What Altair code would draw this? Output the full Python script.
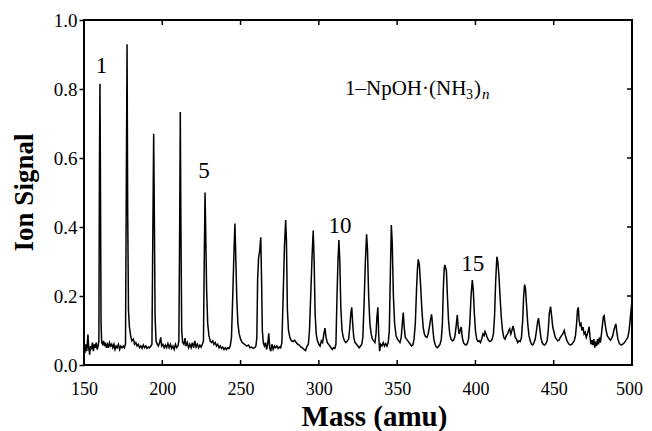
import altair as alt
import pandas as pd

# ---- spectrum trace (mass in amu, ion signal) ----
mass = [
    150.0, 150.6, 151.2, 151.8, 152.5, 153.0, 153.6, 154.2, 154.8, 155.4, 156.0, 156.6, 157.2, 157.8, 158.4, 159.0, 159.5,
    159.9, 160.2, 160.5, 160.9, 161.3,
    161.9, 162.5, 163.1, 163.7, 164.3, 165.0, 165.6, 166.3, 167.0, 167.7, 168.4, 169.1, 169.8, 170.5, 171.2, 172.0, 172.8, 173.5, 174.3, 175.1, 175.8, 176.5,
    177.0, 177.5, 177.9, 178.4, 179.0, 179.8, 180.6, 181.5, 182.3, 183.1, 183.9, 184.7, 185.5, 186.3, 187.1, 187.9, 188.7, 189.5, 190.3, 191.1, 191.9, 192.7, 193.4,
    193.9, 194.5, 194.9, 195.4, 196.0, 196.8, 197.5, 198.3, 199.0, 199.6, 200.4, 201.2, 202.0, 202.8, 203.6, 204.4, 205.2, 206.0, 206.8, 207.6, 208.4, 209.2, 210.0, 210.6,
    211.1, 211.5, 211.9, 212.4, 213.0, 213.8, 214.5, 215.2, 216.0, 216.8, 217.6, 218.4, 219.2, 220.0, 220.8, 221.6, 222.4, 223.2, 224.0, 224.8, 225.6, 226.3,
    226.8, 227.3, 227.7, 228.3, 229.0, 229.8, 230.6, 231.4, 232.2, 233.0, 233.8, 234.6, 235.4, 236.2, 237.0, 237.8, 238.6, 239.4, 240.2, 241.0, 241.8, 242.6, 243.4, 244.2,
    245.0, 245.8, 246.4, 247.0, 247.6, 248.3, 249.1, 250.0, 251.0, 252.0, 253.0, 254.0, 255.0, 256.0, 257.0, 258.0, 259.0, 259.8, 260.4,
    260.9, 261.5, 262.2, 262.9, 263.4, 263.9, 264.5, 265.2, 266.0, 266.6, 267.3, 268.0, 268.6, 269.3, 270.0, 270.8, 271.6, 272.4, 273.2, 274.0, 274.8, 275.6, 276.4,
    277.2, 278.0, 278.8, 279.3, 279.9, 280.6, 281.5, 282.5, 283.5, 284.5, 285.5, 286.5, 287.5, 288.5, 289.5, 290.5, 291.5, 292.5, 293.3, 294.0,
    294.8, 295.7, 296.4, 297.0, 297.6, 298.3, 299.1, 300.0, 300.8, 301.6, 302.4, 303.2, 303.9, 304.6, 305.4, 306.2, 307.0, 307.8, 308.6, 309.4, 310.2, 310.9,
    311.6, 312.2, 312.8, 313.4, 314.0, 314.8, 315.6, 316.4, 317.3, 318.2, 319.0, 319.8, 320.4, 321.0, 321.6, 322.3, 323.1, 324.0, 324.9, 325.8, 326.6, 327.4, 328.1,
    328.9, 329.7, 330.5, 331.1, 331.8, 332.6, 333.4, 334.2, 335.0, 335.8, 336.5, 337.1, 337.7, 338.2, 338.8, 339.5, 340.3, 341.1, 341.9, 342.7, 343.5, 344.3, 345.0,
    345.6, 346.3, 346.9, 347.6, 348.4, 349.3, 350.2, 351.0, 351.8, 352.6, 353.3, 353.9, 354.5, 355.2, 356.0, 356.8, 357.6, 358.4, 359.2, 360.0, 360.8, 361.6,
    362.4, 363.0, 363.5, 364.2, 365.0, 365.8, 366.6, 367.4, 368.2, 369.0, 369.8, 370.6, 371.3, 372.0, 372.7, 373.4, 374.2, 375.0, 375.8, 376.6, 377.4, 378.2, 378.9,
    379.5, 380.0, 380.4, 381.0, 381.5, 382.1, 382.8, 383.6, 384.4, 385.2, 386.0, 386.8, 387.6, 388.4, 389.0, 389.6, 390.2, 390.9, 391.6, 392.4, 393.2, 394.0, 394.8, 395.6, 396.4,
    397.2, 398.0, 398.6, 399.3, 400.0, 400.8, 401.6, 402.4, 403.2, 404.0, 404.8, 405.5, 406.1, 406.8, 407.5, 408.3, 409.1, 409.9, 410.7, 411.5, 412.2,
    412.9, 413.7, 414.3, 415.0, 415.7, 416.5, 417.3, 418.1, 418.9, 419.7, 420.5, 421.3, 421.9, 422.6, 423.3, 424.0, 424.7, 425.4, 426.2, 427.0, 427.8, 428.6, 429.4, 430.2,
    430.8, 431.4, 432.0, 432.7, 433.4, 434.2, 435.0, 435.8, 436.6, 437.4, 438.2, 439.0, 439.7, 440.3, 441.0, 441.8, 442.6, 443.4, 444.2, 445.0, 445.8, 446.5,
    447.2, 448.0, 448.7, 449.4, 450.2, 451.0, 451.8, 452.6, 453.4, 454.2, 455.0, 455.8, 456.7, 457.5, 458.3, 459.1, 459.9, 460.7, 461.5, 462.3, 463.1, 463.9, 464.6,
    465.2, 465.7, 466.2, 466.8, 467.4, 468.0, 468.7, 469.4, 470.1, 470.8, 471.5, 472.1, 472.6, 473.2, 473.8, 474.4, 475.0, 475.6, 476.2, 476.8, 477.4, 478.0, 478.6, 479.2, 479.8, 480.5, 481.2,
    481.7, 482.2, 482.8, 483.5, 484.2, 484.9, 485.6, 486.3, 487.0, 487.7, 488.4, 489.1, 489.7, 490.3, 491.0, 491.7, 492.4, 493.1, 493.8, 494.5, 495.2, 495.9, 496.6, 497.3, 498.0, 498.6, 499.2, 499.7, 500.0,
]
signal = [
    0.050, 0.035, 0.060, 0.040, 0.088, 0.050, 0.030, 0.055, 0.045, 0.065, 0.040, 0.060, 0.050, 0.065, 0.045, 0.055, 0.070,
    0.600, 0.815, 0.550, 0.120, 0.065,
    0.060, 0.070, 0.055, 0.065, 0.050, 0.060, 0.050, 0.065, 0.055, 0.060, 0.050, 0.060, 0.045, 0.055, 0.050, 0.060, 0.045, 0.055, 0.050, 0.055, 0.050, 0.060,
    0.500, 0.930, 0.450, 0.160, 0.110, 0.085, 0.070, 0.075, 0.060, 0.065, 0.055, 0.060, 0.050, 0.055, 0.048, 0.058, 0.050, 0.055, 0.048, 0.052, 0.050, 0.055, 0.060,
    0.350, 0.670, 0.450, 0.140, 0.070, 0.060, 0.055, 0.065, 0.080, 0.055, 0.060, 0.050, 0.058, 0.050, 0.062, 0.050, 0.060, 0.048, 0.055, 0.045, 0.060, 0.050, 0.055, 0.070,
    0.400, 0.733, 0.400, 0.100, 0.065, 0.060, 0.078, 0.055, 0.065, 0.050, 0.060, 0.050, 0.065, 0.050, 0.070, 0.052, 0.060, 0.050, 0.058, 0.052, 0.060, 0.070,
    0.300, 0.500, 0.400, 0.220, 0.120, 0.085, 0.070, 0.065, 0.070, 0.060, 0.065, 0.055, 0.060, 0.050, 0.055, 0.048, 0.052, 0.045, 0.050, 0.045, 0.050, 0.048, 0.055, 0.080,
    0.200, 0.330, 0.410, 0.300, 0.190, 0.120, 0.090, 0.075, 0.065, 0.062, 0.058, 0.055, 0.058, 0.050, 0.052, 0.048, 0.050, 0.055, 0.080,
    0.250, 0.310, 0.330, 0.370, 0.250, 0.100, 0.065, 0.055, 0.065, 0.045, 0.060, 0.092, 0.050, 0.040, 0.060, 0.045, 0.055, 0.050, 0.055, 0.048, 0.052, 0.050, 0.065,
    0.200, 0.340, 0.420, 0.360, 0.160, 0.100, 0.080, 0.070, 0.068, 0.072, 0.065, 0.060, 0.058, 0.052, 0.050, 0.045, 0.042, 0.055, 0.060, 0.100,
    0.200, 0.320, 0.390, 0.300, 0.150, 0.090, 0.070, 0.060, 0.055, 0.070, 0.065, 0.090, 0.107, 0.080, 0.065, 0.060, 0.055, 0.050, 0.045, 0.050, 0.048, 0.060,
    0.200, 0.300, 0.362, 0.300, 0.170, 0.100, 0.080, 0.070, 0.065, 0.070, 0.075, 0.110, 0.150, 0.167, 0.120, 0.080, 0.065, 0.060, 0.055, 0.050, 0.055, 0.060, 0.080,
    0.180, 0.300, 0.379, 0.330, 0.200, 0.120, 0.090, 0.075, 0.070, 0.065, 0.090, 0.140, 0.167, 0.090, 0.040, 0.060, 0.055, 0.065, 0.055, 0.062, 0.055, 0.065, 0.100,
    0.250, 0.406, 0.350, 0.200, 0.120, 0.085, 0.075, 0.070, 0.065, 0.080, 0.120, 0.152, 0.110, 0.080, 0.075, 0.070, 0.065, 0.060, 0.055, 0.058, 0.075, 0.120,
    0.220, 0.280, 0.306, 0.290, 0.230, 0.160, 0.110, 0.090, 0.082, 0.080, 0.090, 0.110, 0.130, 0.147, 0.110, 0.075, 0.060, 0.052, 0.050, 0.055, 0.060, 0.075, 0.120,
    0.220, 0.275, 0.290, 0.282, 0.270, 0.200, 0.130, 0.090, 0.075, 0.070, 0.072, 0.080, 0.110, 0.145, 0.110, 0.090, 0.100, 0.110, 0.080, 0.065, 0.060, 0.058, 0.062, 0.075, 0.120,
    0.200, 0.246, 0.220, 0.150, 0.100, 0.075, 0.068, 0.070, 0.065, 0.075, 0.090, 0.085, 0.097, 0.090, 0.080, 0.072, 0.068, 0.070, 0.075, 0.090, 0.140,
    0.240, 0.314, 0.300, 0.260, 0.200, 0.140, 0.100, 0.080, 0.075, 0.085, 0.090, 0.100, 0.105, 0.090, 0.100, 0.113, 0.100, 0.080, 0.075, 0.065, 0.070, 0.068, 0.080, 0.130,
    0.200, 0.233, 0.220, 0.170, 0.120, 0.085, 0.070, 0.060, 0.058, 0.065, 0.075, 0.100, 0.125, 0.136, 0.110, 0.080, 0.065, 0.060, 0.058, 0.062, 0.070, 0.100,
    0.150, 0.169, 0.140, 0.110, 0.095, 0.080, 0.075, 0.070, 0.072, 0.080, 0.085, 0.090, 0.100, 0.085, 0.072, 0.065, 0.060, 0.058, 0.060, 0.065, 0.070, 0.085, 0.120,
    0.160, 0.167, 0.130, 0.115, 0.120, 0.100, 0.110, 0.090, 0.095, 0.080, 0.090, 0.100, 0.111, 0.080, 0.060, 0.072, 0.058, 0.075, 0.050, 0.068, 0.055, 0.075, 0.060, 0.080, 0.065, 0.090, 0.120,
    0.140, 0.143, 0.120, 0.100, 0.085, 0.080, 0.075, 0.072, 0.078, 0.085, 0.100, 0.112, 0.119, 0.095, 0.075, 0.065, 0.060, 0.058, 0.060, 0.062, 0.065, 0.070, 0.075, 0.080, 0.095, 0.120, 0.150, 0.174, 0.150,
]

# ---- axes ----
x_tick_values = [150, 200, 250, 300, 350, 400, 450, 500]
y_tick_values = [0.0, 0.2, 0.4, 0.6, 0.8, 1.0]
x_inner_ticks = [200, 250, 300, 350, 400, 450]
y_inner_ticks = [0.2, 0.4, 0.6, 0.8]

# ---- annotations ----
cluster_labels = ["1", "5", "10", "15"]
cluster_label_mass = [161.1, 226.6, 313.5, 398.3]
cluster_label_signal = [0.845, 0.542, 0.383, 0.273]

formula_mass = [316.7]
formula_signal = [0.783]

W, H = 548, 345
FONT = "Liberation Serif"

xscale = alt.Scale(domain=[150, 500], nice=False, zero=False)
yscale = alt.Scale(domain=[0, 1], nice=False, zero=False)

x_axis = alt.Axis(
    values=x_tick_values, format="d", tickSize=0, domain=False, grid=False, labelFlush=False,
    labelOffset=alt.expr("datum.value == 500 ? -3 : 0"),
    labelFont=FONT, labelFontSize=18, labelColor="black", labelPadding=15,
    title="Mass (amu)", titleFont=FONT, titleFontSize=29, titleFontWeight="bold",
    titleColor="black", titleX=290, titleY=60, titleBaseline="alphabetic", titleAlign="center")
y_axis = alt.Axis(
    values=y_tick_values, format=".1f", tickSize=5, tickColor="black", tickWidth=1.5,
    domain=False, grid=False, labelFlush=False, labelFont=FONT, labelFontSize=19,
    labelColor="black", labelPadding=2,
    title="Ion Signal", titleFont=FONT, titleFontSize=27, titleFontWeight="bold",
    titleColor="black", titleX=-52, titleY=172, titleAngle=270, titleBaseline="alphabetic",
    titleAlign="center")

spec_df = pd.DataFrame({"mass": mass, "signal": signal})

line = alt.Chart(spec_df).mark_line(color="black", strokeWidth=1.5, clip=True).encode(
    x=alt.X("mass:Q", scale=xscale, axis=x_axis),
    y=alt.Y("signal:Q", scale=yscale, axis=y_axis),
)

xt_df = pd.DataFrame({"mass": x_inner_ticks})
yt_df = pd.DataFrame({"signal": y_inner_ticks})

bottom_ticks = alt.Chart(xt_df).mark_rule(color="black", strokeWidth=1.5).encode(
    x=alt.X("mass:Q", scale=xscale), y=alt.value(H), y2=alt.value(H - 5))
top_ticks = alt.Chart(xt_df).mark_rule(color="black", strokeWidth=1.5).encode(
    x=alt.X("mass:Q", scale=xscale), y=alt.value(0), y2=alt.value(5))
right_ticks = alt.Chart(yt_df).mark_rule(color="black", strokeWidth=1.5).encode(
    y=alt.Y("signal:Q", scale=yscale), x=alt.value(W), x2=alt.value(W - 5))

lab_df = pd.DataFrame({"mass": cluster_label_mass, "signal": cluster_label_signal, "t": cluster_labels})
labels = alt.Chart(lab_df).mark_text(font=FONT, fontSize=23, align="center", baseline="alphabetic",
                                     color="black").encode(
    x=alt.X("mass:Q", scale=xscale), y=alt.Y("signal:Q", scale=yscale), text="t:N")

f_df = pd.DataFrame({"mass": formula_mass, "signal": formula_signal})


def piece(txt, size, dx, dy, style="normal"):
    return alt.Chart(f_df).mark_text(font=FONT, fontSize=size, align="left", baseline="alphabetic",
                                     color="black", dx=dx, dy=dy, fontStyle=style, text=txt).encode(
        x=alt.X("mass:Q", scale=xscale), y=alt.Y("signal:Q", scale=yscale))


formula = [
    piece("1–NpOH·(NH", 21, 0, 0),
    piece("3", 14, 121, 4),
    piece(")", 21, 129, 0),
    piece("n", 15, 137, 4, "italic"),
]

chart = alt.layer(line, bottom_ticks, top_ticks, right_ticks, labels, *formula).properties(
    width=W, height=H,
    autosize=alt.AutoSizeParams(type="none"),
    padding={"left": 76, "top": 12, "right": 12, "bottom": 66},
    background="white",
).configure_view(stroke="black", strokeWidth=2)

chart.save("out.html", embed_options={"renderer": "svg", "actions": False})
